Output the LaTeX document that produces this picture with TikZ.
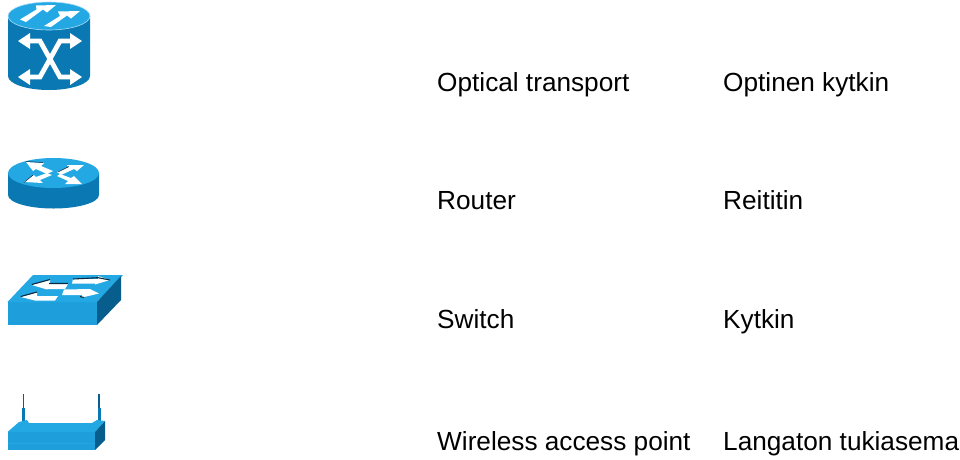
\documentclass[tikz,border=0pt]{standalone}
\usepackage{fontspec}
\setmainfont{Liberation Sans}
\definecolor{toplight}{HTML}{24A8E4}
\definecolor{bodydark}{HTML}{0A78B2}
\definecolor{front}{HTML}{1E9FDC}
\definecolor{sidedark}{HTML}{075E8C}
\definecolor{shadow}{HTML}{0B2A40}
\tikzset{
  lbl/.style={anchor=base west,inner sep=0pt,font=\fontsize{26.2}{30}\selectfont,text=black},
  wline/.style={draw=white,line width=4.8pt,miter limit=10},
  whead/.style={fill=white,draw=none},
  sw/.style={fill=white,draw=none},
  swsh/.style={draw=shadow,line width=1.1pt}
}
\begin{document}
\begin{tikzpicture}[x=1pt,y=-1pt]
\useasboundingbox (0,0) rectangle (960,459);
\fill[white] (0,0) rectangle (960,459);
% optical
\fill[bodydark] (8,16) -- (8,76) arc[start angle=180,end angle=0,x radius=41,y radius=14] -- (90,16) -- cycle;
\fill[toplight,draw=white!60!toplight,line width=.6pt] (49,16) ellipse[x radius=41,y radius=14];
\fill[white] (20,19.5) -- (36.5,9.5) -- (36,5.5) -- (56,5) -- (47,12.5) -- (43,9.5) -- (26,22) -- cycle;
\fill[white] (44,26) -- (60,16) -- (58,11.5) -- (80,11) -- (71,18.5) -- (67,15.5) -- (51,27) -- cycle;
\draw[wline] (26,41) -- (40,41) -- (60,77) -- (74,77);
\draw[wline] (26,77) -- (40,77) -- (60,41) -- (74,41);
\fill[whead] (18,41) -- (30,33) -- (30,49) -- cycle;
\fill[whead] (18,77) -- (30,69) -- (30,85) -- cycle;
\fill[whead] (82,41) -- (70,33) -- (70,49) -- cycle;
\fill[whead] (82,77) -- (70,69) -- (70,85) -- cycle;
% router
\fill[bodydark] (8,173) -- (8,195) arc[start angle=180,end angle=0,x radius=45.5,y radius=13.5] -- (99,173) -- cycle;
\fill[toplight] (53.5,173) ellipse[x radius=45.5,y radius=15];
\fill[white] (26,162) -- (44,163) -- (41,166) -- (53,171) -- (47,174) -- (36,169) -- (33,171) -- cycle;
\fill[white] (84,165) -- (67,165) -- (69,167) -- (57,172) -- (61,175) -- (74,169) -- (77,171) -- cycle;
\fill[white] (24,182) -- (43,183) -- (40,180) -- (52,175) -- (47,173) -- (36,177) -- (34,175) -- cycle;
\fill[white] (82,184) -- (65,184) -- (68,181) -- (57,176) -- (60,174) -- (71,178) -- (74,176) -- cycle;
\draw[shadow,line width=.5pt] (26,161.5) -- (43,162.5) (58,172) -- (69,166.5) (24,182.5) -- (33,175);
% switch
\fill[front] (7.5,302) -- (97,302) -- (97,325) -- (7.5,325) -- cycle;
\fill[toplight] (7.5,302) -- (33,275) -- (123,275) -- (97,302) -- cycle;
\fill[sidedark] (97,302) -- (121,276) -- (121,300) -- (97,325) -- cycle;
\fill[sw] (31.7,285) -- (50,280) -- (50,284) -- (68,284) -- (65,289) -- (47,289) -- (47,289.5) -- cycle;
\fill[sw] (73,279) -- (98,279) -- (98,276) -- (110,280) -- (95,284.5) -- (95,283.5) -- (72,283.5) -- cycle;
\fill[sw] (20.7,297) -- (37,292.5) -- (37,296) -- (58,296) -- (55,300.5) -- (35,300.5) -- cycle;
\fill[sw] (64,289.5) -- (90,289) -- (90,289) -- (99,293.5) -- (82,297.5) -- (82,295) -- (62,295) -- cycle;
\draw[swsh] (31.7,284.5) -- (50,279.5) (20.7,296.5) -- (37,292) (73,279) -- (98,277.7) -- (110,280) (49,283.5) -- (68,283.5) (80,296.5) -- (84,297.5);
% access point
\fill[bodydark] (21.5,408) rectangle (25,422);
\fill[bodydark] (97.5,408) rectangle (100.5,422);
\fill[sidedark] (22.6,394) rectangle (24,408);
\fill[sidedark] (98.4,394) rectangle (99.8,408);
\fill[toplight] (7.5,432) -- (19,422) -- (27,420) -- (29,423) -- (92,423) -- (97,420) -- (105,421) -- (95,432) -- cycle;
\fill[front] (7.5,432) rectangle (95,450);
\draw[toplight,line width=.7pt] (7.5,443.5) -- (95,443.5);
\fill[sidedark] (95,432) -- (105,421) -- (105,440) -- (95,450) -- cycle;
% labels
\node[lbl] (t1) at (437,91) {Optical transport};
\node[lbl] (f1) at (723,91) {Optinen kytkin};
\node[lbl] (t2) at (437,209) {Router};
\node[lbl] (f2) at (723,209) {Reititin};
\node[lbl] (t3) at (437,328) {Switch};
\node[lbl] (f3) at (723,328) {Kytkin};
\node[lbl] (t4) at (437,450) {Wireless access point};
\node[lbl] (f4) at (723,450) {Langaton tukiasema};
\end{tikzpicture}
\end{document}
